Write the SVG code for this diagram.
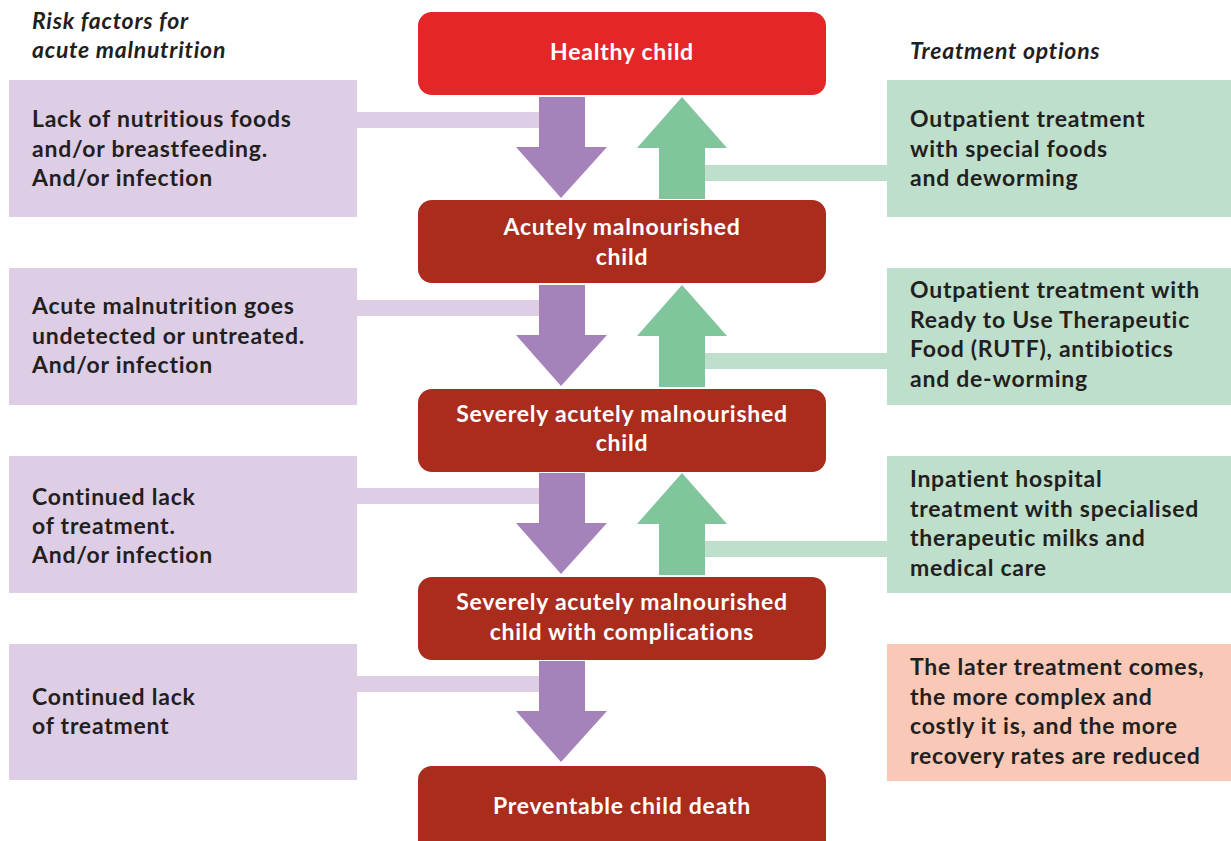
<svg xmlns="http://www.w3.org/2000/svg" width="1231" height="841" viewBox="0 0 1231 841">
<style>
.t,.h,.w{font-family:Lato,"Noto Sans","Liberation Sans",sans-serif;font-weight:bold;font-size:23px;letter-spacing:0.75px}
.t{fill:#231F20}
.h{font-style:italic;fill:#231F20}
.w{fill:#FFFFFF;text-anchor:middle}
.red{fill:#E42629}
.dred{fill:#A92C1D}
.lp{fill:#DDCEE6}
.lg{fill:#BEDFCC}
.sal{fill:#F9C8B6}
.pa{fill:#A682BA}
.ga{fill:#80C59C}
</style>
<rect width="1231" height="841" fill="#FFFFFF"/>
<text class="h" x="32" y="29">Risk factors for</text>
<text class="h" x="32" y="58">acute malnutrition</text>
<text class="h" x="910" y="59">Treatment options</text>

<g id="connectors">
<rect class="lp" x="356" y="112" width="184" height="16"/>
<rect class="lp" x="356" y="300" width="184" height="16"/>
<rect class="lp" x="356" y="488" width="184" height="16"/>
<rect class="lp" x="356" y="676" width="184" height="16"/>
<polygon class="pa" points="539,97 585,97 585,147 607,147 561,198 516,147 539,147"/>
<polygon class="pa" points="539,285 585,285 585,335 607,335 561,386 516,335 539,335"/>
<polygon class="pa" points="539,473 585,473 585,523 607,523 561,574 516,523 539,523"/>
<polygon class="pa" points="539,661 585,661 585,711 607,711 561,762 516,711 539,711"/>
<rect class="lg" x="704" y="165" width="184" height="16"/>
<rect class="lg" x="704" y="353" width="184" height="16"/>
<rect class="lg" x="704" y="541" width="184" height="16"/>
<polygon class="ga" points="659,199 705,199 705,148 727,148 682,97 637,148 659,148"/>
<polygon class="ga" points="659,387 705,387 705,336 727,336 682,285 637,336 659,336"/>
<polygon class="ga" points="659,575 705,575 705,524 727,524 682,473 637,524 659,524"/>
</g>

<g id="healthy">
<rect class="red" x="418" y="12" width="408" height="83" rx="14"/>
<text class="w" x="622" y="60">Healthy child</text>
</g>
<g id="acute">
<rect class="dred" x="418" y="200" width="408" height="83" rx="14"/>
<text class="w" x="622" y="235">Acutely malnourished</text>
<text class="w" x="622" y="265">child</text>
</g>
<g id="severe">
<rect class="dred" x="418" y="389" width="408" height="83" rx="14"/>
<text class="w" x="622" y="422">Severely acutely malnourished</text>
<text class="w" x="622" y="451">child</text>
</g>
<g id="complications">
<rect class="dred" x="418" y="577" width="408" height="83" rx="14"/>
<text class="w" x="622" y="610">Severely acutely malnourished</text>
<text class="w" x="622" y="640">child with complications</text>
</g>
<g id="death">
<rect class="dred" x="418" y="766" width="408" height="90" rx="14"/>
<text class="w" x="622" y="814">Preventable child death</text>
</g>

<g id="risk1">
<rect class="lp" x="9" y="80" width="348" height="137"/>
<text class="t" x="32" y="127">Lack of nutritious foods</text>
<text class="t" x="32" y="156.5">and/or breastfeeding.</text>
<text class="t" x="32" y="186">And/or infection</text>
</g>
<g id="risk2">
<rect class="lp" x="9" y="268" width="348" height="137"/>
<text class="t" x="32" y="314">Acute malnutrition goes</text>
<text class="t" x="32" y="343.5">undetected or untreated.</text>
<text class="t" x="32" y="373">And/or infection</text>
</g>
<g id="risk3">
<rect class="lp" x="9" y="456" width="348" height="137"/>
<text class="t" x="32" y="505">Continued lack</text>
<text class="t" x="32" y="534">of treatment.</text>
<text class="t" x="32" y="563">And/or infection</text>
</g>
<g id="risk4">
<rect class="lp" x="9" y="644" width="348" height="136"/>
<text class="t" x="32" y="705">Continued lack</text>
<text class="t" x="32" y="734">of treatment</text>
</g>

<g id="treat1">
<rect class="lg" x="887" y="80" width="344" height="137"/>
<text class="t" x="910" y="127">Outpatient treatment</text>
<text class="t" x="910" y="156.5">with special foods</text>
<text class="t" x="910" y="186">and deworming</text>
</g>
<g id="treat2">
<rect class="lg" x="887" y="268" width="344" height="137"/>
<text class="t" x="910" y="298">Outpatient treatment with</text>
<text class="t" x="910" y="327.5">Ready to Use Therapeutic</text>
<text class="t" x="910" y="357">Food (RUTF), antibiotics</text>
<text class="t" x="910" y="386.5">and de-worming</text>
</g>
<g id="treat3">
<rect class="lg" x="887" y="456" width="344" height="137"/>
<text class="t" x="910" y="487">Inpatient hospital</text>
<text class="t" x="910" y="516.5">treatment with specialised</text>
<text class="t" x="910" y="546">therapeutic milks and</text>
<text class="t" x="910" y="575.5">medical care</text>
</g>
<g id="note">
<rect class="sal" x="887" y="644" width="344" height="137"/>
<text class="t" x="910" y="675">The later treatment comes,</text>
<text class="t" x="910" y="704.5">the more complex and</text>
<text class="t" x="910" y="734">costly it is, and the more</text>
<text class="t" x="910" y="763.5">recovery rates are reduced</text>
</g>
</svg>
